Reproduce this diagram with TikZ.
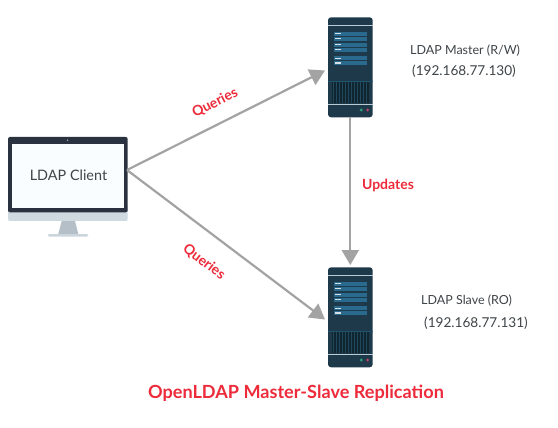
\documentclass[tikz,border=0pt]{standalone}
\usepackage{fontspec}
\setmainfont{Lato}
\usetikzlibrary{arrows.meta}
\definecolor{srv}{HTML}{1E3A4A}
\definecolor{srvrow}{HTML}{2A6A8E}
\definecolor{srvline}{HTML}{B9CBD4}
\definecolor{srvdiv}{HTML}{1F5470}
\definecolor{grilledark}{HTML}{0F2530}
\definecolor{ledg}{HTML}{2E9E78}
\definecolor{ledr}{HTML}{C2406A}
\definecolor{bezel}{HTML}{2A3240}
\definecolor{chin}{HTML}{CFD9E0}
\definecolor{standc}{HTML}{B4BFC7}
\definecolor{scr}{HTML}{F9FDFF}
\definecolor{conn}{HTML}{A3A3A3}
\definecolor{lab}{HTML}{ED2B3A}
\definecolor{txt}{HTML}{3F4448}
\tikzset{
  x=1pt,y=-1pt,
  conline/.style={draw=conn,line width=2.2pt,-{Triangle[length=15pt,width=17pt]}},
  redlab/.style={text=lab,font=\fontsize{14}{16}\selectfont\bfseries,inner sep=0pt},
  info/.style={text=txt,font=\fontsize{12.5}{15}\selectfont,inner sep=0pt,anchor=west},
  ipinfo/.style={info,font=\fontsize{13.6}{15}\selectfont},
  srvpic/.pic={
    \fill[srv,rounded corners=3pt] (0,0) rectangle (44.7,100);
    \fill[srvline] (0,7.8) rectangle (44.7,9);
    \foreach \a/\b in {14.3/18.7,20/23.4,25.3/29.7,30.3/34.7,38.7/43,43.7/47.7}{
      \fill[srvrow] (6,\a) rectangle (39,\b);
    }
    \foreach \a in {16.3,21,27.3,32.3,41,45.7}{
      \fill[srvline!60!white] (7.3,\a-.7) rectangle (13.3,\a+.7);
    }
    \fill[srvdiv] (0,63.6) rectangle (44.7,64.6);
    \fill[grilledark] (3.7,65) rectangle (41.3,85.6);
    \foreach \i in {0,...,11}{
      \fill[srv!70!srvrow] (5.2+3*\i,65) rectangle (6.2+3*\i,85.6);
    }
    \fill[srvline] (0,86.6) rectangle (44.7,87.6);
    \fill[ledg] (33.3,92.7) circle (1.6);
    \fill[ledr] (39.6,92.7) circle (1.6);
  }
}
\begin{document}
\begin{tikzpicture}
\useasboundingbox (0,0) rectangle (558,428);
\fill[white] (0,0) rectangle (558,428);
% monitor
\fill[standc] (61.7,221) -- (75,221) -- (78.3,234) -- (58.3,234) -- cycle;
\fill[chin!85!standc,rounded corners=1.5pt] (47.7,234) rectangle (88.3,236.7);
\fill[chin,rounded corners=2pt] (8,205) rectangle (127.7,221);
\fill[bezel,rounded corners=2pt] (8,137) -- (127.7,137) -- (127.7,212.3) -- (8,212.3) -- cycle;
\fill[srvline] (67.6,140.2) circle (.7);
\node[fill=scr,minimum width=112pt,minimum height=63.7pt,inner sep=0pt] (client) at (67.7,175.9) {};
\node[text=txt,font=\fontsize{14.4}{16}\selectfont,inner sep=0pt] (clientlabel) at (68.5,175.5) {LDAP Client};
\coordinate (clientport) at (127,170);
% servers
\pic at (328,17.3) {srvpic};
\pic at (328,267.3) {srvpic};
\coordinate (mastertop) at (350.3,117.3);
\coordinate (masterin) at (325,70.5);
\coordinate (slavetop) at (350.3,265);
\coordinate (slavein) at (325,319.5);
% connectors
\draw[conline] (clientport) -- (masterin);
\draw[conline] (clientport) -- (slavein);
\draw[conline] (mastertop) -- (slavetop);
% labels
\node[redlab,rotate=26.7] (q1) at (215,103) {Queries};
\node[redlab,rotate=-37.5] (q2) at (204,262) {Queries};
\node[redlab] (upd) at (388,185) {Updates};
\node[info] (m1) at (410,51) {LDAP Master (R/W)};
\node[ipinfo] (m2) at (412,71) {(192.168.77.130)};
\node[info] (s1) at (421,301) {LDAP Slave (RO)};
\node[ipinfo] (s2) at (424,323) {(192.168.77.131)};
\node[text=lab,font=\fontsize{18.1}{20}\selectfont\bfseries,inner sep=0pt] (title) at (296,393) {OpenLDAP Master-Slave Replication};
\end{tikzpicture}
\end{document}
